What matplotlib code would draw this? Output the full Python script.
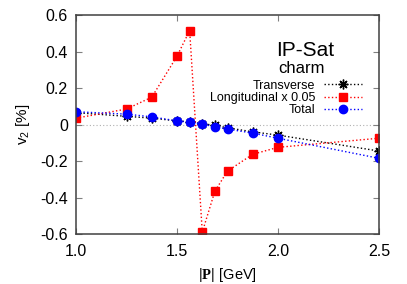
import matplotlib.pyplot as plt

plt.rcParams['font.family'] = ['Liberation Sans', 'DejaVu Sans']
plt.rcParams['mathtext.fontset'] = 'custom'
plt.rcParams['mathtext.rm'] = 'Liberation Sans'
plt.rcParams['mathtext.bf'] = 'Liberation Serif:bold'

p = [1.0, 1.25, 1.375, 1.5, 1.5625, 1.625, 1.6875, 1.75, 1.875, 2.0, 2.5]
transverse = [0.065, 0.045, 0.035, 0.02, 0.015, 0.005, -0.005, -0.018, -0.04, -0.058, -0.145]
longitudinal = [0.035, 0.085, 0.15, 0.375, 0.515, -0.59, -0.365, -0.255, -0.163, -0.125, -0.075]
total = [0.07, 0.057, 0.042, 0.02, 0.013, 0.003, -0.013, -0.025, -0.047, -0.075, -0.185]

xticks = [1.0, 1.5, 2.0, 2.5]
yticks = [-0.6, -0.4, -0.2, 0, 0.2, 0.4, 0.6]

fig = plt.figure(figsize=(4.07, 2.84), dpi=100)
ax = fig.add_axes([0.187, 0.176, 0.744, 0.771])

ax.axhline(0, color='#b0b0b0', lw=0.8, ls=(0, (1, 2)), zorder=0)

ax.plot(p, transverse, color='black', ls=':', lw=1, marker=(8, 2, 0),
        ms=7, mew=1, label='Transverse')
ax.plot(p, longitudinal, color='red', ls=':', lw=1, marker='s',
        ms=5.5, label='Longitudinal x 0.05')
ax.plot(p, total, color='blue', ls=':', lw=1, marker='o',
        ms=6, label='Total')

ax.set_xlim(1.0, 2.5)
ax.set_ylim(-0.6, 0.6)
ax.set_xticks(xticks)
ax.set_xticklabels(['%.1f' % v for v in xticks])
ax.set_yticks(yticks)
ax.set_yticklabels(['0' if v == 0 else '%.1f' % v for v in yticks])
ax.tick_params(direction='in', top=True, right=True, length=4,
               labelsize=11.5, color='#808080')
ax.tick_params(axis='x', pad=7)
ax.tick_params(axis='y', pad=6)
for s in ax.spines.values():
    s.set_color('#404040')
    s.set_linewidth(1.1)

ax.set_xlabel(r'|$\mathbf{P}$| [GeV]', fontsize=10.5, labelpad=5)
ax.set_ylabel(r'v$_2$ [%]', fontsize=11, labelpad=6)

ax.text(0.756, 0.84, 'IP-Sat', transform=ax.transAxes, fontsize=15,
        ha='center', va='center')
ax.text(0.743, 0.755, 'charm', transform=ax.transAxes, fontsize=12,
        ha='center', va='center')

ax.legend(loc='upper right', bbox_to_anchor=(0.944, 0.705), frameon=False,
          markerfirst=False, fontsize=9, handlelength=3.0,
          handletextpad=0.75, labelspacing=0.02, borderpad=0,
          borderaxespad=0)

fig.savefig('out.png', dpi=100)
